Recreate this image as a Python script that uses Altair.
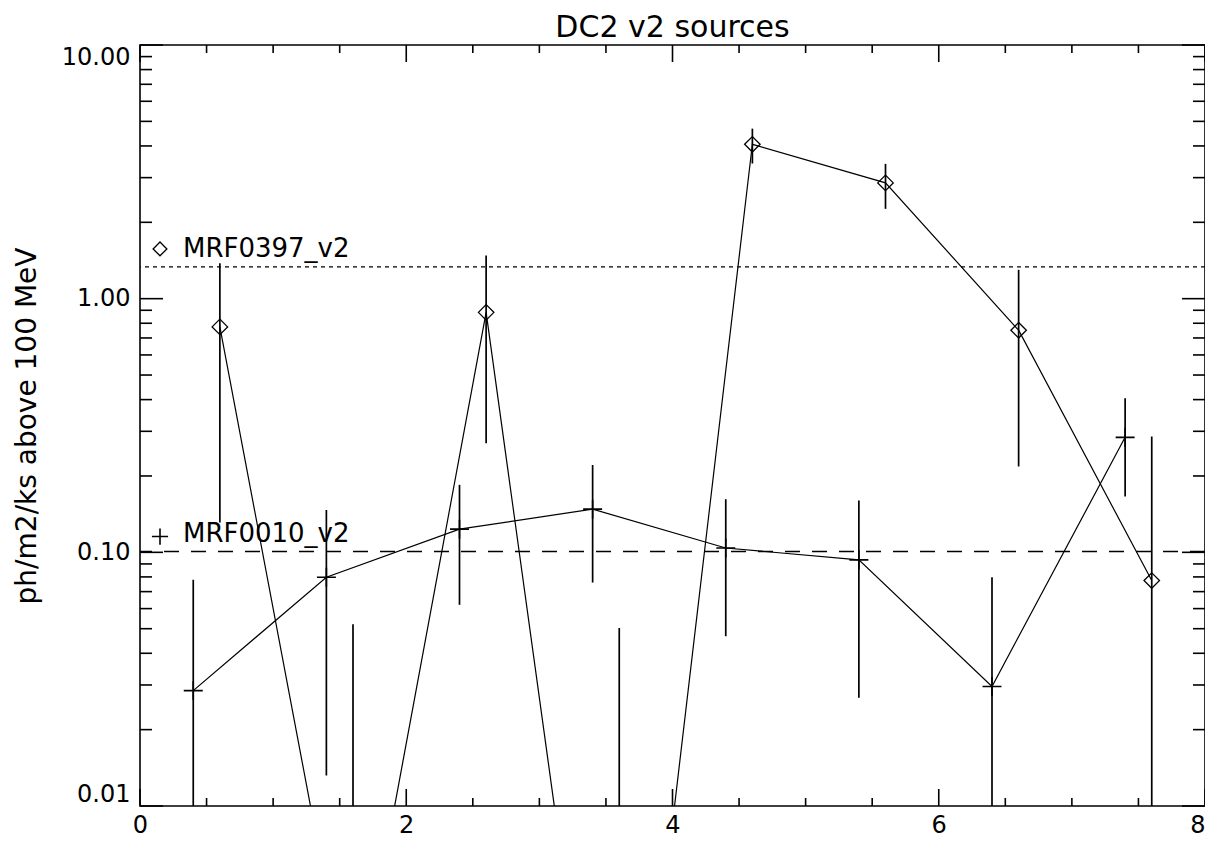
import altair as alt
import pandas as pd

# ---- data ----
diam_x = [0.6, 1.6, 2.6, 3.6, 4.6, 5.6, 6.6, 7.6]
diam_y = [0.774, 0.0013, 0.883, 0.00014, 4.06, 2.86, 0.751, 0.0774]
diam_lo = [0.131, 0.0001, 0.269, 0.0001, 3.41, 2.26, 0.218, 0.0001]
diam_hi = [1.38, 0.052, 1.48, 0.0503, 4.68, 3.40, 1.30, 0.286]

plus_x = [0.4, 1.4, 2.4, 3.4, 4.4, 5.4, 6.4, 7.4]
plus_y = [0.0285, 0.0798, 0.1234, 0.148, 0.104, 0.0934, 0.0296, 0.284]
plus_lo = [0.0001, 0.0132, 0.0621, 0.076, 0.0467, 0.0267, 0.0001, 0.166]
plus_hi = [0.078, 0.147, 0.1845, 0.221, 0.162, 0.160, 0.0798, 0.405]

ref_names = ["MRF0397_v2", "MRF0010_v2"]
ref_levels = [1.334, 0.1007]
chart_title = "DC2 v2 sources"
y_title = "ph/m2/ks above 100 MeV"

x_labels = [0, 2, 4, 6, 8]
x_minor = [0.5, 1, 1.5, 2.5, 3, 3.5, 4.5, 5, 5.5, 6.5, 7, 7.5]
y_labels = [0.01, 0.1, 1, 10]
y_minor = [0.02, 0.03, 0.04, 0.05, 0.06, 0.07, 0.08, 0.09,
           0.2, 0.3, 0.4, 0.5, 0.6, 0.7, 0.8, 0.9,
           2, 3, 4, 5, 6, 7, 8, 9]

W, H = 1065, 761
FONT = "DejaVu Sans"
INK = "#000000"

diam = pd.DataFrame({"x": diam_x, "y": diam_y, "lo": diam_lo, "hi": diam_hi})
plus = pd.DataFrame({"x": plus_x, "y": plus_y, "lo": plus_lo, "hi": plus_hi})
xmaj = pd.DataFrame({"v": x_labels})
xmin = pd.DataFrame({"v": x_minor})
ymaj = pd.DataFrame({"v": y_labels})
ymin = pd.DataFrame({"v": y_minor})

xs = alt.Scale(domain=[0, 8], nice=False, zero=False)
ys = alt.Scale(type="log", domain=[0.01, 10], nice=False)

x_axis = alt.Axis(values=x_labels, format="d", tickSize=0, domain=False, grid=False,
                  labelFontSize=24, labelFont=FONT, labelColor=INK, labelPadding=26,
                  labelBaseline="alphabetic", labelFlush=False,
                  labelAlign={"condition": {"test": "datum.value == 8", "value": "right"},
                              "value": "center"},
                  title=None)
y_axis = alt.Axis(values=y_labels, format=".2f", tickSize=0, domain=False, grid=False,
                  labelFontSize=24, labelFont=FONT, labelColor=INK, labelPadding=10,
                  labelFlush=True, labelFlushOffset=0,
                  title=y_title, titleFont=FONT, titleFontSize=28,
                  titleFontWeight="normal", titleColor=INK, titleAngle=270,
                  titleX=-113, titleY=H / 2, titleAlign="center", titleBaseline="middle")


def X(field):
    return alt.X(field, scale=xs, axis=x_axis)


def Y(field):
    return alt.Y(field, scale=ys, axis=y_axis)


# main series lines
line_d = alt.Chart(diam).mark_line(color=INK, strokeWidth=1.2, clip=True).encode(
    x=X("x:Q"), y=Y("y:Q"))
line_p = alt.Chart(plus).mark_line(color=INK, strokeWidth=1.2, clip=True).encode(
    x=X("x:Q"), y=Y("y:Q"))
err_d = alt.Chart(diam).mark_rule(color=INK, strokeWidth=1.7, clip=True).encode(
    x=X("x:Q"), y=Y("lo:Q"), y2="hi:Q")
err_p = alt.Chart(plus).mark_rule(color=INK, strokeWidth=1.7, clip=True).encode(
    x=X("x:Q"), y=Y("lo:Q"), y2="hi:Q")
pts_d = alt.Chart(diam).mark_point(shape="diamond", filled=False, color=INK, size=240,
                                   strokeWidth=1.3, opacity=1, clip=True).encode(
    x=X("x:Q"), y=Y("y:Q"))
PLUS = "M-1,0L1,0M0,-1L0,1"
pts_p = alt.Chart(plus).mark_point(shape=PLUS, filled=False, color=INK, size=360,
                                   strokeWidth=1.6, opacity=1, clip=True).encode(
    x=X("x:Q"), y=Y("y:Q"))

# reference levels
ref1 = alt.Chart(pd.DataFrame({"y": [ref_levels[0]]})).mark_rule(
    color=INK, strokeWidth=1.4, strokeDash=[4, 4]).encode(y=Y("y:Q"))
ref2 = alt.Chart(pd.DataFrame({"y": [ref_levels[1]]})).mark_rule(
    color=INK, strokeWidth=1.4, strokeDash=[15, 12]).encode(y=Y("y:Q"))

# legend-like labels
lab1 = alt.Chart(pd.DataFrame({"y": [ref_levels[0]], "t": [ref_names[0]]})).mark_text(
    font=FONT, fontSize=26, color=INK, align="left", baseline="alphabetic", dy=-10).encode(
    x=alt.value(43), y=Y("y:Q"), text="t:N")
lab2 = alt.Chart(pd.DataFrame({"y": [ref_levels[1]], "t": [ref_names[1]]})).mark_text(
    font=FONT, fontSize=26, color=INK, align="left", baseline="alphabetic", dy=-10).encode(
    x=alt.value(43), y=Y("y:Q"), text="t:N")
sym1 = alt.Chart(pd.DataFrame({"y": [ref_levels[0]]})).mark_point(
    shape="diamond", filled=False, color=INK, size=190, strokeWidth=1.3, opacity=1,
    yOffset=-18).encode(x=alt.value(20), y=Y("y:Q"))
sym2 = alt.Chart(pd.DataFrame({"y": [ref_levels[1]]})).mark_point(
    shape=PLUS, filled=False, color=INK, size=260, strokeWidth=1.6, opacity=1,
    yOffset=-15).encode(x=alt.value(20), y=Y("y:Q"))

# title as text above the frame
title = alt.Chart(pd.DataFrame({"t": [chart_title]})).mark_text(
    font=FONT, fontSize=30, color=INK, align="center", baseline="alphabetic").encode(
    x=alt.value(W / 2), y=alt.value(-8), text="t:N")


# inward ticks (IDL style)
def xticks(df, length):
    top = alt.Chart(df).mark_rule(color=INK, strokeWidth=1.6).encode(
        x=X("v:Q"), y=alt.value(0), y2=alt.value(length))
    bot = alt.Chart(df).mark_rule(color=INK, strokeWidth=1.6).encode(
        x=X("v:Q"), y=alt.value(H), y2=alt.value(H - length))
    return [top, bot]


def yticks(df, length):
    left = alt.Chart(df).mark_rule(color=INK, strokeWidth=1.6).encode(
        y=Y("v:Q"), x=alt.value(0), x2=alt.value(length))
    right = alt.Chart(df).mark_rule(color=INK, strokeWidth=1.6).encode(
        y=Y("v:Q"), x=alt.value(W), x2=alt.value(W - length))
    return [left, right]


ticks = xticks(xmaj, 17) + xticks(xmin, 8) + yticks(ymaj, 23) + yticks(ymin, 12)

chart = alt.layer(
    line_d, line_p, ref1, ref2, err_d, err_p, pts_d, pts_p,
    lab1, lab2, sym1, sym2, title, *ticks
).properties(
    width=W, height=H,
    background="white",
    autosize=alt.AutoSizeParams(type="none"),
    padding={"left": 132, "top": 37, "right": 0, "bottom": 34},
).configure_view(
    stroke=INK, strokeWidth=1.6
)

chart.save("out.html", embed_options={"renderer": "svg", "actions": False})
